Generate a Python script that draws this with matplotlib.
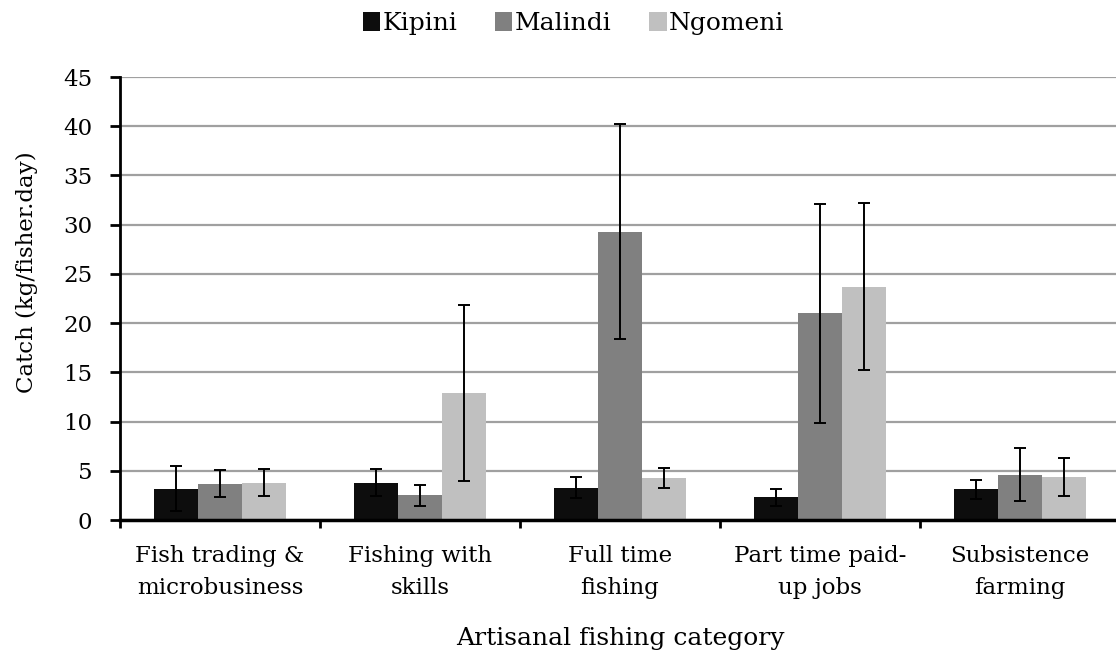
import matplotlib.pyplot as plt
import numpy as np

plt.rcParams['font.family'] = ['DejaVu Serif']

categories = ['Fish trading &\nmicrobusiness', 'Fishing with\nskills', 'Full time\nfishing',
              'Part time paid-\nup jobs', 'Subsistence\nfarming']
sites = ['Kipini', 'Malindi', 'Ngomeni']
colors = ['#0d0d0d', '#808080', '#c0c0c0']

kipini = [3.2, 3.8, 3.3, 2.3, 3.1]
malindi = [3.7, 2.5, 29.3, 21.0, 4.6]
ngomeni = [3.8, 12.9, 4.3, 23.7, 4.4]

kipini_err = [2.3, 1.4, 1.1, 0.85, 0.95]
malindi_err = [1.4, 1.05, 10.9, 11.1, 2.7]
ngomeni_err = [1.4, 8.9, 1.0, 8.5, 1.95]

values = [kipini, malindi, ngomeni]
errors = [kipini_err, malindi_err, ngomeni_err]

fig = plt.figure(figsize=(11.16, 6.57), dpi=100)
ax = fig.add_axes([0.1075, 0.2085, 0.8961, 0.6743])

x = np.arange(len(categories))
w = 0.22
for i, (vals, errs) in enumerate(zip(values, errors)):
    ax.bar(x + (i - 1) * w, vals, w, color=colors[i], label=sites[i], zorder=2)
    ax.errorbar(x + (i - 1) * w, vals, yerr=errs, fmt='none', ecolor='black',
                elinewidth=1.4, capsize=4.3, capthick=1.4, zorder=3)

ax.set_xlim(-0.5, len(categories) - 0.5)
ax.set_ylim(0, 45)
ax.set_yticks(range(0, 46, 5))
ax.yaxis.grid(True, color='#a0a0a0', linewidth=1.6, zorder=0)
ax.set_axisbelow(True)

ax.set_xticks(x)
ax.set_xticklabels(categories, fontsize=16.5, linespacing=1.6)
ax.set_xticks(np.arange(-0.5, len(categories), 1), minor=True)
ax.tick_params(axis='x', which='major', length=0, pad=18)
ax.tick_params(axis='x', which='minor', length=6, width=2, direction='out')
ax.tick_params(axis='y', length=7, width=2, direction='out', labelsize=16.5, pad=13)

for side in ['top', 'right']:
    ax.spines[side].set_visible(False)
ax.spines['left'].set_linewidth(2)
ax.spines['bottom'].set_linewidth(2.5)

ax.set_ylabel('Catch (kg/fisher.day)', fontsize=16.5)
ax.yaxis.set_label_coords(-0.082, 0.56)
ax.set_xlabel('Artisanal fishing category', fontsize=18, labelpad=20)

fig.legend(loc='upper center', bbox_to_anchor=(0.514, 1.016), ncol=3, frameon=False,
           fontsize=18, handlelength=0.7, handleheight=0.8, handletextpad=0.1,
           columnspacing=1.5)

fig.savefig('out.png', dpi=100)
